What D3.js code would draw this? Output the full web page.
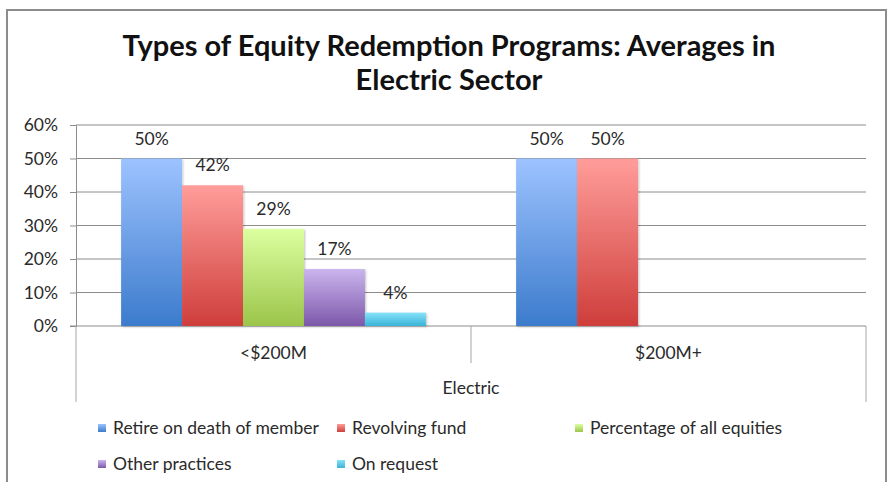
<!DOCTYPE html>
<html>
<head>
<meta charset="utf-8">
<script src="https://cdn.jsdelivr.net/npm/d3@7"></script>
<style>
  body { margin: 0; background: #fff; }
  text { font-family: Lato, "Open Sans", sans-serif; fill: #2a2a2a; }
</style>
</head>
<body>
<svg width="890" height="482"></svg>
<script>
const categories = ['<$200M', '$200M+'];
const groupLabel = 'Electric';
const series = ['Retire on death of member', 'Revolving fund', 'Percentage of all equities', 'Other practices', 'On request'];
// values per series, one per category
const retireOnDeath = [50, 50];
const revolvingFund = [42, 50];
const percentageAll = [29, 0];
const otherPractices = [17, 0];
const onRequest = [4, 0];
const yTicks = [0, 10, 20, 30, 40, 50, 60];

const values = [retireOnDeath, revolvingFund, percentageAll, otherPractices, onRequest];
const colors = [
  ['#9dc3ff', '#3c7bcc'],
  ['#ff9d9a', '#ce3e3b'],
  ['#dcffa0', '#9bc54a'],
  ['#cbb5ee', '#7c58aa'],
  ['#86e2f8', '#39b4d8']
];

const fs = 17.5;

const svg = d3.select('svg');

// outer frame
svg.append('rect')
  .attr('x', 7).attr('y', 10)
  .attr('width', 879).attr('height', 480)
  .attr('fill', 'none')
  .attr('stroke', '#8c8c8c')
  .attr('stroke-width', 2);

// title
const title = svg.append('text')
  .attr('text-anchor', 'middle')
  .attr('font-weight', 'bold')
  .attr('font-size', 29)
  .style('fill', '#111');
title.append('tspan').attr('x', 449).attr('y', 56).text('Types of Equity Redemption Programs: Averages in');
title.append('tspan').attr('x', 449).attr('y', 90).text('Electric Sector');

const defs = svg.append('defs');
colors.forEach((c, i) => {
  const grad = defs.append('linearGradient')
    .attr('id', 'g' + i)
    .attr('x1', 0).attr('y1', 0).attr('x2', 0).attr('y2', 1);
  grad.append('stop').attr('offset', '0%').attr('stop-color', c[0]);
  grad.append('stop').attr('offset', '100%').attr('stop-color', c[1]);
});
const shadow = defs.append('filter').attr('id', 'sh')
  .attr('x', '-10%').attr('y', '-10%').attr('width', '130%').attr('height', '130%');
shadow.append('feDropShadow')
  .attr('dx', 1).attr('dy', 1).attr('stdDeviation', 1.2)
  .attr('flood-color', '#000').attr('flood-opacity', 0.25);

const plotLeft = 76, plotRight = 866, plotTop = 125, plotBottom = 326;

const y = d3.scaleLinear().domain([0, 60]).range([plotBottom, plotTop]);
const x0 = d3.scaleBand().domain(categories).range([plotLeft, plotRight]);
const x1 = d3.scaleBand().domain(series).range([0, x0.bandwidth()]).paddingOuter(0.74);

// y axis
svg.append('g')
  .attr('transform', `translate(${plotLeft},0)`)
  .call(d3.axisLeft(y).tickValues(yTicks).tickSize(6).tickPadding(12)
    .tickFormat(d => d + '%'))
  .call(g => g.select('.domain').attr('stroke', '#8c8c8c'))
  .call(g => g.selectAll('line').attr('stroke', '#8c8c8c'))
  .call(g => g.selectAll('text').attr('font-size', fs).attr('fill', '#2a2a2a')
    .attr('font-family', 'Lato, sans-serif'));

// gridlines
svg.append('g')
  .selectAll('line')
  .data(yTicks.filter(d => d > 0))
  .join('line')
  .attr('x1', plotLeft).attr('x2', plotRight)
  .attr('y1', d => y(d)).attr('y2', d => y(d))
  .attr('stroke', '#8c8c8c');

// category axis box
const cat = svg.append('g').attr('stroke', '#a6a6a6');
cat.append('line').attr('x1', plotLeft - 6).attr('x2', plotRight).attr('y1', plotBottom).attr('y2', plotBottom).attr('stroke', '#8c8c8c');
cat.append('line').attr('x1', plotLeft).attr('x2', plotLeft).attr('y1', plotBottom).attr('y2', 402);
cat.append('line').attr('x1', plotRight).attr('x2', plotRight).attr('y1', plotBottom).attr('y2', 402);
cat.append('line').attr('x1', x0(categories[1])).attr('x2', x0(categories[1])).attr('y1', plotBottom).attr('y2', 363);

svg.append('g')
  .selectAll('text')
  .data(categories)
  .join('text')
  .attr('x', d => x0(d) + x0.bandwidth() / 2)
  .attr('y', 359)
  .attr('text-anchor', 'middle')
  .attr('font-size', fs)
  .text(d => d);

svg.append('text')
  .attr('x', (plotLeft + plotRight) / 2)
  .attr('y', 394)
  .attr('text-anchor', 'middle')
  .attr('font-size', fs)
  .text(groupLabel);

// bars
const groups = svg.append('g')
  .selectAll('g')
  .data(categories)
  .join('g')
  .attr('transform', d => `translate(${x0(d)},0)`);

groups.each(function (c, ci) {
  const rows = series.map((s, si) => ({ s, si, v: values[si][ci] }));
  const g = d3.select(this);
  g.selectAll('rect')
    .data(rows.filter(r => r.v > 0))
    .join('rect')
    .attr('x', r => x1(r.s))
    .attr('y', r => y(r.v))
    .attr('width', x1.bandwidth())
    .attr('height', r => plotBottom - y(r.v))
    .attr('fill', r => `url(#g${r.si})`)
    .attr('filter', 'url(#sh)');
  g.selectAll('text')
    .data(rows.filter(r => r.v > 0))
    .join('text')
    .attr('x', r => x1(r.s) + x1.bandwidth() / 2)
    .attr('y', r => y(r.v) - 14)
    .attr('text-anchor', 'middle')
    .attr('font-size', fs)
    .text(r => r.v + '%');
});

// legend
const legendPos = [[98, 428], [337, 428], [575, 428], [98, 464], [337, 464]];
const legend = svg.append('g')
  .selectAll('g')
  .data(series)
  .join('g')
  .attr('transform', (d, i) => `translate(${legendPos[i][0]},${legendPos[i][1]})`);
legend.append('rect')
  .attr('x', 0).attr('y', -4)
  .attr('width', 8).attr('height', 8)
  .attr('fill', (d, i) => `url(#g${i})`);
legend.append('text')
  .attr('x', 15).attr('y', 6)
  .attr('font-size', fs)
  .text(d => d);
</script>
</body>
</html>
